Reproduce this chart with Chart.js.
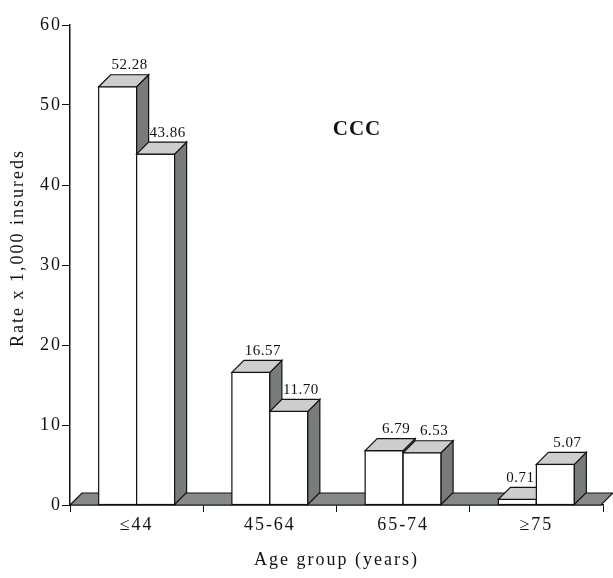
<!DOCTYPE html>
<html>
<head>
<meta charset="utf-8">
<script src="https://cdn.jsdelivr.net/npm/chart.js@4/dist/chart.umd.min.js"></script>
<style>
  html, body { margin: 0; padding: 0; background: #fff; }
  #wrap { position: relative; width: 613px; height: 578px; }
</style>
</head>
<body>
<div id="wrap"><canvas id="chart"></canvas></div>
<script>
// data
const ageGroups = ['≤44', '45-64', '65-74', '≥75'];
const seriesA = [52.28, 16.57, 6.79, 0.71];
const seriesB = [43.86, 11.70, 6.53, 5.07];
const yTicks = [0, 10, 20, 30, 40, 50, 60];

const DX = 12, DY = 12;
const SERIF = '"Liberation Serif", "DejaVu Serif", serif';

// scanned type is set wide
const spacingPlugin = {
  id: 'spacing',
  beforeDraw(chart) { chart.ctx.letterSpacing = '2px'; }
};

// floor strip under the bars
const floorPlugin = {
  id: 'floor',
  beforeDatasetsDraw(chart) {
    const { ctx, chartArea } = chart;
    const base = chart.scales.y.getPixelForValue(0);
    const l = chartArea.left, r = chartArea.right - 2;
    ctx.save();
    ctx.beginPath();
    ctx.moveTo(l, base);
    ctx.lineTo(l + DX, base - DY);
    ctx.lineTo(r + DX, base - DY);
    ctx.lineTo(r, base);
    ctx.closePath();
    ctx.fillStyle = '#858a86';
    ctx.fill();
    ctx.strokeStyle = '#111';
    ctx.lineWidth = 1.2;
    ctx.stroke();
    ctx.restore();
  }
};

// boxes drawn left to right so each front hides the previous side
const boxPlugin = {
  id: 'box3d',
  afterDatasetsDraw(chart) {
    const { ctx } = chart;
    const n = chart.data.labels.length;
    const sets = chart.data.datasets;
    const props = (d, i) => chart.getDatasetMeta(d).data[i].getProps(['x', 'y', 'base', 'width'], true);
    ctx.save();
    ctx.lineWidth = 1.2;
    ctx.strokeStyle = '#111';
    for (let i = 0; i < n; i++) {
      sets.forEach((ds, d) => {
        const { x, y, base, width } = props(d, i);
        const l = x - width / 2, r = x + width / 2;
        ctx.fillStyle = '#ffffff';
        ctx.fillRect(l, y, width, base - y);
        ctx.strokeRect(l, y, width, base - y);
        ctx.beginPath();
        ctx.moveTo(r, y);
        ctx.lineTo(r + DX, y - DY);
        ctx.lineTo(r + DX, base - DY);
        ctx.lineTo(r, base);
        ctx.closePath();
        ctx.fillStyle = '#777c78';
        ctx.fill();
        ctx.stroke();
        ctx.beginPath();
        ctx.moveTo(l, y);
        ctx.lineTo(l + DX, y - DY);
        ctx.lineTo(r + DX, y - DY);
        ctx.lineTo(r, y);
        ctx.closePath();
        ctx.fillStyle = '#cdcdcd';
        ctx.fill();
        ctx.stroke();
      });
    }
    // value labels on top of everything
    ctx.letterSpacing = '0.5px';
    ctx.fillStyle = '#111';
    ctx.font = '15px ' + SERIF;
    ctx.textAlign = 'center';
    ctx.textBaseline = 'bottom';
    for (let i = 0; i < n; i++) {
      sets.forEach((ds, d) => {
        const p = props(d, i);
        const txt = ds.data[i].toFixed(2);
        const w = ctx.measureText(txt).width;
        let cx = p.x + DX;
        const ty = p.y - DY - 2;
        if (d + 1 < sets.length) {
          const nb = props(d + 1, i);
          const nl = nb.x - nb.width / 2;
          if (nb.y - DY < ty && cx + w / 2 > nl - 2) cx = nl - 2 - w / 2;
        }
        ctx.fillText(txt, cx, ty);
      });
    }
    ctx.restore();
  }
};

const textPlugin = {
  id: 'texts',
  afterDraw(chart) {
    const { ctx } = chart;
    ctx.save();
    ctx.fillStyle = '#111';
    ctx.letterSpacing = '1px';
    ctx.font = 'bold 21px ' + SERIF;
    ctx.textAlign = 'center';
    ctx.textBaseline = 'middle';
    ctx.fillText('CCC', 357, 130);
    // y axis title, sits a little above the axis middle in the original
    ctx.letterSpacing = '2px';
    ctx.font = '18px ' + SERIF;
    ctx.translate(18, 248);
    ctx.rotate(-Math.PI / 2);
    ctx.fillText('Rate x 1,000 insureds', 0, 0);
    ctx.restore();
  }
};

new Chart(document.getElementById('chart'), {
  type: 'bar',
  data: {
    labels: ageGroups,
    datasets: [
      { data: seriesA, backgroundColor: '#ffffff', borderColor: '#111', borderWidth: 1.2, borderSkipped: false },
      { data: seriesB, backgroundColor: '#ffffff', borderColor: '#111', borderWidth: 1.2, borderSkipped: false }
    ]
  },
  options: {
    responsive: true,
    maintainAspectRatio: false,
    animation: false,
    layout: { padding: { top: 25, right: 10, left: 0, bottom: 0 } },
    plugins: { legend: { display: false }, tooltip: { enabled: false } },
    datasets: { bar: { categoryPercentage: 0.57, barPercentage: 1.0 } },
    scales: {
      x: {
        grid: { display: true, drawOnChartArea: false, tickLength: 7, color: '#111', offset: true },
        border: { display: true, color: '#111', width: 1.5 },
        ticks: { color: '#111', font: { family: SERIF, size: 18 }, padding: 2 },
        title: { display: true, text: 'Age group (years)', color: '#111', font: { family: SERIF, size: 18 }, padding: { top: 0, bottom: 7 } },
        afterFit(scale) { scale.height = 73; }
      },
      y: {
        min: 0, max: 60,
        afterBuildTicks(scale) { scale.ticks = yTicks.map(v => ({ value: v })); },
        grid: { display: true, drawOnChartArea: false, tickLength: 8, color: '#111' },
        border: { display: true, color: '#111', width: 1.5 },
        ticks: { color: '#111', font: { family: SERIF, size: 18 }, padding: 0 },
        title: { display: false },
        afterFit(scale) { scale.width = 70; }
      }
    }
  },
  plugins: [spacingPlugin, floorPlugin, boxPlugin, textPlugin]
});
</script>
</body>
</html>
